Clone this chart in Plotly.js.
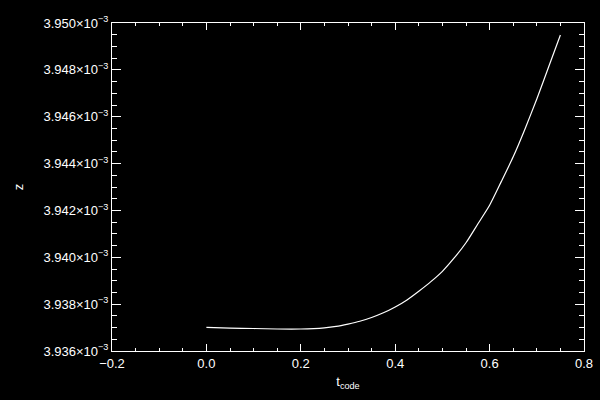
<!DOCTYPE html>
<html>
<head>
<meta charset="utf-8">
<script src="https://cdn.plot.ly/plotly-3.0.1.min.js"></script>
<style>html,body{margin:0;padding:0;background:#000;}#chart{width:600px;height:400px;}</style>
</head>
<body>
<div id="chart"></div>
<script>
// Data
var tCode = [0.0, 0.05, 0.10, 0.15, 0.20, 0.25, 0.275, 0.30, 0.325, 0.35, 0.375, 0.40, 0.425, 0.45, 0.475, 0.50, 0.525, 0.55, 0.575, 0.60, 0.625, 0.65, 0.675, 0.70, 0.725, 0.75];
var zVals = [3.93701e-3, 3.93698e-3, 3.93696e-3, 3.93694e-3, 3.93694e-3, 3.93699e-3, 3.93705e-3, 3.93715e-3, 3.93727e-3, 3.93743e-3, 3.93763e-3, 3.93788e-3, 3.93818e-3, 3.93855e-3, 3.93895e-3, 3.93940e-3, 3.93997e-3, 3.94062e-3, 3.94142e-3, 3.94222e-3, 3.94324e-3, 3.94429e-3, 3.94548e-3, 3.94676e-3, 3.94812e-3, 3.94949e-3];

var yTickVals = [3.936e-3, 3.938e-3, 3.940e-3, 3.942e-3, 3.944e-3, 3.946e-3, 3.948e-3, 3.950e-3];
var yTickText = ["3.936×10<sup>−3</sup>", "3.938×10<sup>−3</sup>", "3.940×10<sup>−3</sup>", "3.942×10<sup>−3</sup>", "3.944×10<sup>−3</sup>", "3.946×10<sup>−3</sup>", "3.948×10<sup>−3</sup>", "3.950×10<sup>−3</sup>"];
var xTickVals = [-0.2, 0.0, 0.2, 0.4, 0.6, 0.8];
var xTickText = ["−0.2", "0.0", "0.2", "0.4", "0.6", "0.8"];

var font = {family: "Liberation Sans, Arial, sans-serif", size: 13, color: "#ffffff"};

var trace = {
  x: tCode, y: zVals, type: "scatter", mode: "lines",
  line: {color: "#ffffff", width: 1.2, shape: "spline", smoothing: 0.6},
  hoverinfo: "skip"
};

var layout = {
  width: 600, height: 400,
  paper_bgcolor: "#000000", plot_bgcolor: "#000000",
  margin: {l: 112, r: 16, t: 23, b: 49},
  showlegend: false,
  font: font,
  xaxis: {
    range: [-0.2, 0.8], tickmode: "array", tickvals: xTickVals, ticktext: xTickText,
    showgrid: false, zeroline: false,
    showline: true, linecolor: "#ffffff", linewidth: 1, mirror: "allticks",
    ticks: "inside", ticklen: 7, tickwidth: 1, tickcolor: "#ffffff",
    minor: {dtick: 0.05, tick0: 0, ticks: "inside", ticklen: 3, tickwidth: 1, tickcolor: "#ffffff", showgrid: false},
    tickfont: font,
    title: {text: "t<sub>code</sub>", font: font, standoff: 7},
    automargin: false
  },
  yaxis: {
    range: [3.936e-3, 3.950e-3], tickmode: "array", tickvals: yTickVals, ticktext: yTickText,
    showgrid: false, zeroline: false,
    showline: true, linecolor: "#ffffff", linewidth: 1, mirror: "allticks",
    ticks: "inside", ticklen: 9, tickwidth: 1, tickcolor: "#ffffff",
    minor: {dtick: 0.0005e-3, tick0: 3.936e-3, ticks: "inside", ticklen: 5, tickwidth: 1, tickcolor: "#ffffff", showgrid: false},
    tickfont: font,
    title: {text: "z", font: font, standoff: 16},
    automargin: false
  }
};

Plotly.newPlot("chart", [trace], layout, {staticPlot: true, displayModeBar: false});
</script>
</body>
</html>
